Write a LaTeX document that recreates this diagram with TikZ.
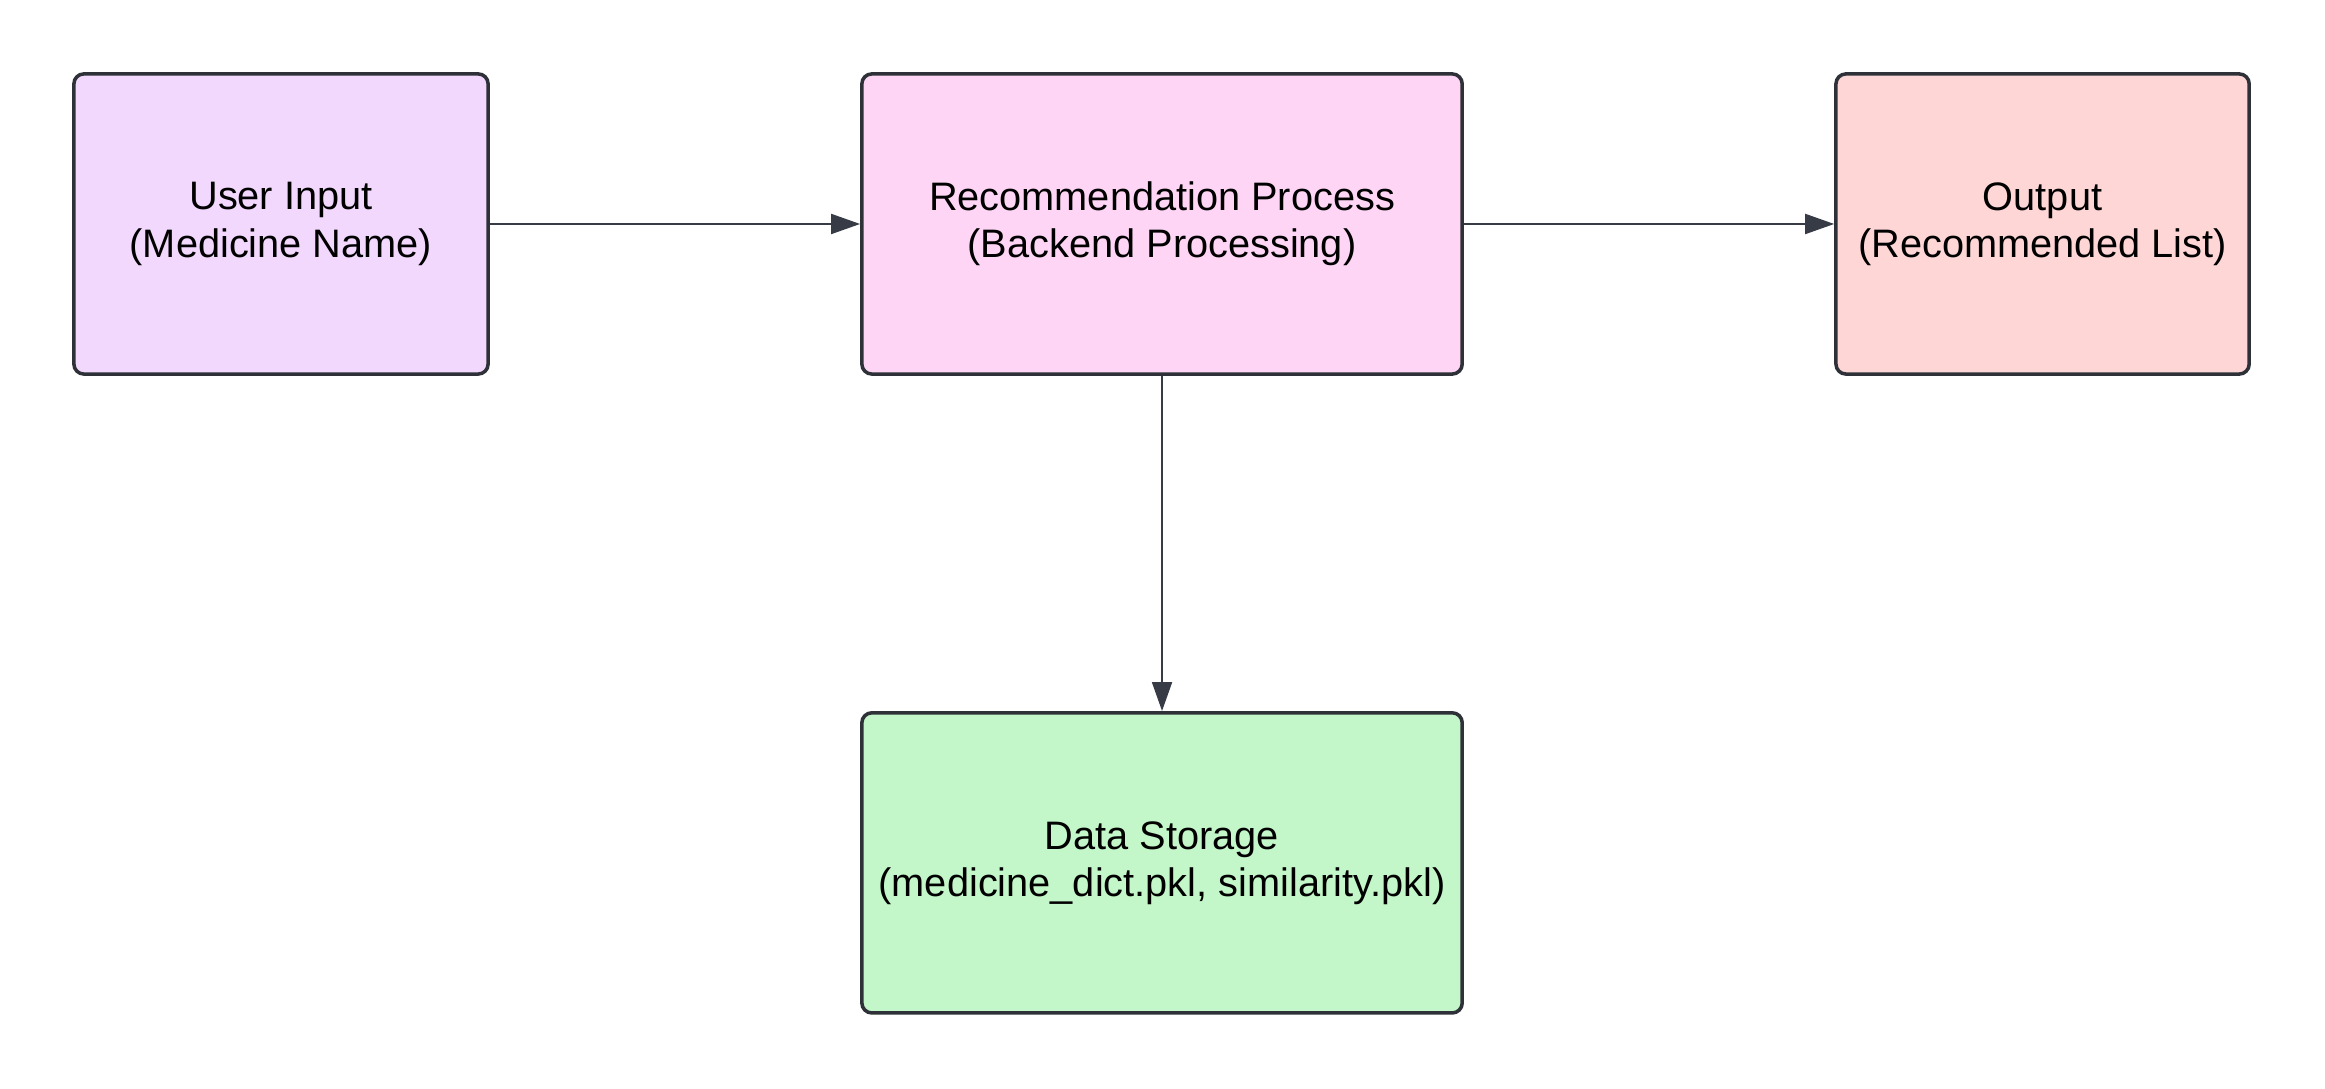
\documentclass[tikz,border=0pt]{standalone}
\usepackage{fontspec}
\setmainfont{Liberation Sans}
\usetikzlibrary{positioning,arrows.meta}
\definecolor{lilas}{HTML}{F2D8FD}
\definecolor{rosa}{HTML}{FED5F5}
\definecolor{salmao}{HTML}{FED6D6}
\definecolor{menta}{HTML}{C3F6C8}
\definecolor{grafite}{HTML}{2E3238}
\definecolor{ardosia}{HTML}{363B45}
\newcommand{\corA}{lilas}
\newcommand{\corB}{rosa}
\newcommand{\corC}{salmao}
\newcommand{\corD}{menta}

\begin{document}
\begin{tikzpicture}[x=0.01cm, y=0.01cm,
    caixa/.style={draw=grafite, line width=1pt, rounded corners=0.1cm, align=center,
                  minimum height=3cm, inner sep=0pt, font=\fontsize{11.3}{13.4}\selectfont},
    seta/.style={draw=ardosia, line width=0.55pt, -{Triangle[length=0.29cm, width=0.2cm]}}]
          \useasboundingbox (0,0) rectangle (2325,1088);
          % caixa 0
        \node[caixa, fill=\corA, minimum width=4.14cm] (input) at (281,864) {User Input\\(Medicine Name)};

          % caixa 1
        \node[caixa, fill=\corB, minimum width=6.0cm, right=3.70cm of input] (process) {Recommendation Process\\(Backend Processing)};

          % caixa 2
        \node[caixa, fill=\corC, minimum width=4.13cm, right=3.70cm of process] (output) {Output\\(Recommended List)};

          % caixa 3
        \node[caixa, fill=\corD, minimum width=6.0cm, below=3.35cm of process] (storage) {Data Storage\\(medicine\_dict.pkl, similarity.pkl)};

           \draw[seta] (input) -- (process);
           \draw[seta] (process) -- (output);
           \draw[seta] (process) -- (storage);
    \end{tikzpicture}
\end{document}
